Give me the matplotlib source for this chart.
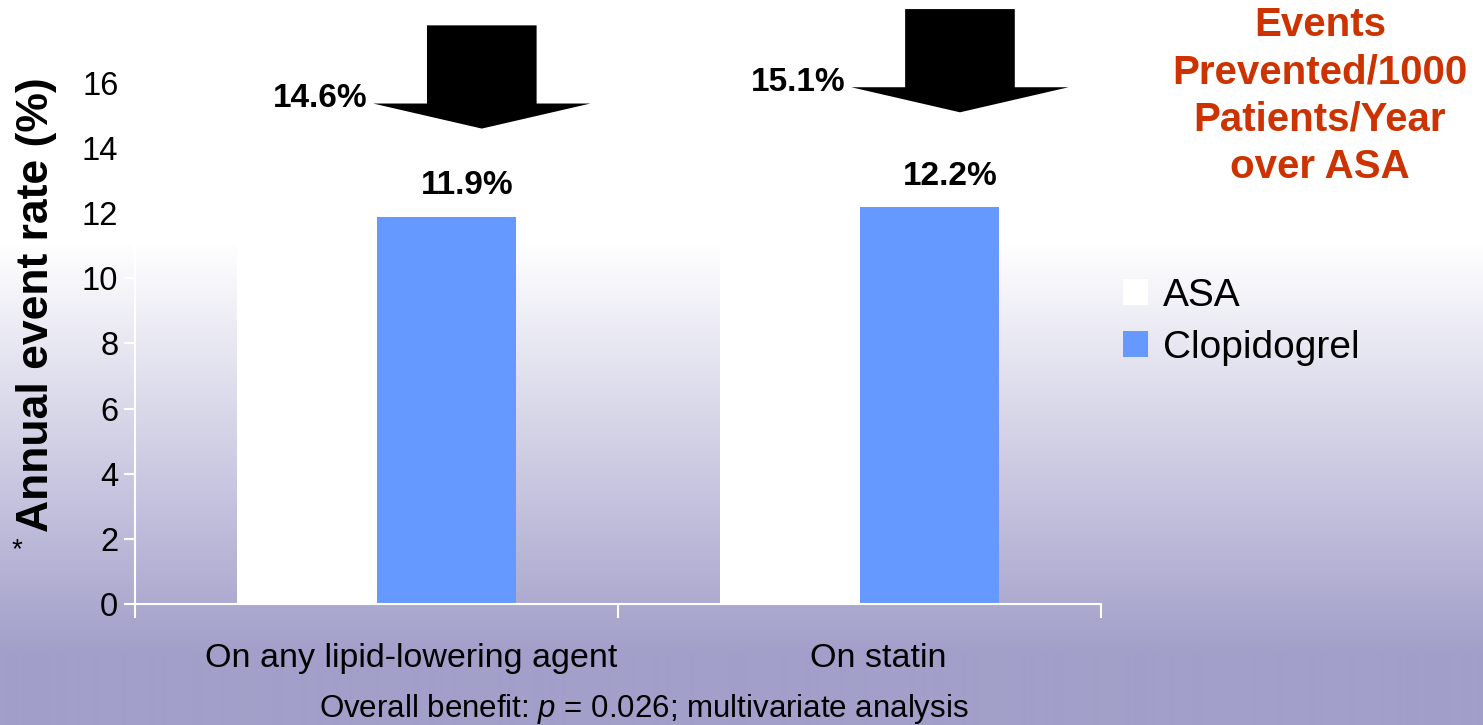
#!/usr/bin/env python3

"""Annual event rate on lipid-lowering therapy: ASA vs clopidogrel."""

import matplotlib

matplotlib.use("Agg")
import matplotlib.pyplot as plt
import matplotlib.transforms as mtransforms
import numpy as np
from matplotlib.patches import Polygon

plt.rcParams["font.family"] = ["Liberation Sans", "DejaVu Sans"]
plt.rcParams["mathtext.fontset"] = "custom"
plt.rcParams["mathtext.rm"] = "Liberation Sans"
plt.rcParams["mathtext.it"] = "Liberation Sans:italic"

# Data
categories = ["On any lipid-lowering agent", "On statin"]
series_names = ["ASA", "Clopidogrel"]
asa_rates = [14.6, 15.1]
clopidogrel_rates = [11.9, 12.2]
y_ticks = [0, 2, 4, 6, 8, 10, 12, 14, 16]

BLUE = "#6699FF"
RED = "#CC3300"

fig = plt.figure(figsize=(14.83, 7.25), dpi=100)

# Slide-style vertical gradient behind everything
bg = fig.add_axes([0, 0, 1, 1], zorder=-10)
rows = np.linspace(0, 1, 725)
t = np.clip((rows - 0.335) / (0.90 - 0.335), 0, 1)
top_c = np.array([1.0, 1.0, 1.0])
bot_c = np.array([162, 159, 202]) / 255
grad = top_c[None, :] * (1 - t[:, None]) + bot_c[None, :] * t[:, None]
bg.imshow(grad[:, None, :], aspect="auto", extent=[0, 1, 1, 0])
bg.set_axis_off()

ax = fig.add_axes([135 / 1483, 1 - 604 / 725, (1101 - 135) / 1483, (604 - 83) / 725])
ax.set_facecolor("none")

x = np.arange(len(categories))
width = 0.288
asa_bars = ax.bar(x - width / 2, asa_rates, width, color="white", label=series_names[0])
clop_bars = ax.bar(x + width / 2, clopidogrel_rates, width, color=BLUE, label=series_names[1])

ax.set_xlim(-0.5, len(categories) - 0.5)
ax.set_ylim(0, 16)
ax.set_yticks(y_ticks)
ax.tick_params(axis="y", colors="white", labelcolor="black", labelsize=23.5,
               length=8, width=1.5, pad=4)

# Category labels at bar-group centres, tick marks between groups
ax.set_xticks(x)
ax.set_xticklabels(categories, fontsize=24.5)
ax.tick_params(axis="x", which="major", length=0, pad=28, labelcolor="black")
ax.set_xticks(np.arange(-0.5, len(categories)), minor=True)
ax.tick_params(axis="x", which="minor", colors="white", length=10, width=1.5, direction="out")
for lbl, dx in zip(ax.get_xticklabels(), [35, 19]):
    lbl.set_transform(lbl.get_transform() + mtransforms.ScaledTranslation(dx / 100, 0, fig.dpi_scale_trans))

for side in ["top", "right"]:
    ax.spines[side].set_visible(False)
for side in ["left", "bottom"]:
    ax.spines[side].set_color("white")
    ax.spines[side].set_linewidth(1.5)

# Value labels over the clopidogrel bars
for bar, val in zip(clop_bars, clopidogrel_rates):
    ax.annotate(f"{val}%", (bar.get_x() + bar.get_width() / 2, val + 0.94),
                xytext=(15, 0), textcoords="offset points", ha="center", va="center",
                fontsize=24, fontweight="bold")

# Block arrows pointing down to the ASA rate, label on the left of the head
arrow_x = [0.218, 1.208]
head_w, head_len = 0.450, 0.77
shaft_w, shaft_len = 0.227, 2.4
for xc, val in zip(arrow_x, asa_rates):
    base = val + head_len
    pts = [
        (xc, val),
        (xc + head_w / 2, base),
        (xc + shaft_w / 2, base),
        (xc + shaft_w / 2, base + shaft_len),
        (xc - shaft_w / 2, base + shaft_len),
        (xc - shaft_w / 2, base),
        (xc - head_w / 2, base),
    ]
    ax.add_patch(Polygon(pts, closed=True, facecolor="black", edgecolor="none", clip_on=False))
    ax.annotate(f"{val}%", (xc - head_w / 2, val + 0.92), xytext=(-4, 0),
                textcoords="offset points", ha="right", va="center",
                fontsize=24, fontweight="bold", annotation_clip=False)

fig.text(37 / 1483, 1 - 305 / 725, "Annual event rate (%)", rotation=90,
         ha="center", va="center", fontsize=32, fontweight="bold")
fig.text(17 / 1483, 1 - 550 / 725, "*", ha="center", va="center", fontsize=20)

fig.text(1320 / 1483, 1 - 96 / 725, "Events\nPrevented/1000\nPatients/Year\nover ASA",
         ha="center", va="center", fontsize=29, fontweight="bold", color=RED,
         linespacing=1.32)

ax.legend(handles=[asa_bars, clop_bars], loc="upper left",
          bbox_to_anchor=(1123 / 1483, 1 - 278 / 725), bbox_transform=fig.transFigure,
          frameon=False, fontsize=28, handlelength=0.64, handleheight=0.64,
          handletextpad=0.38, labelspacing=0.40, borderpad=0, borderaxespad=0)

fig.text(644 / 1483, 1 - 709 / 725, r"Overall benefit: $p$ = 0.026; multivariate analysis",
         ha="center", va="center", fontsize=22.5)

fig.savefig("out.png", dpi=100)
